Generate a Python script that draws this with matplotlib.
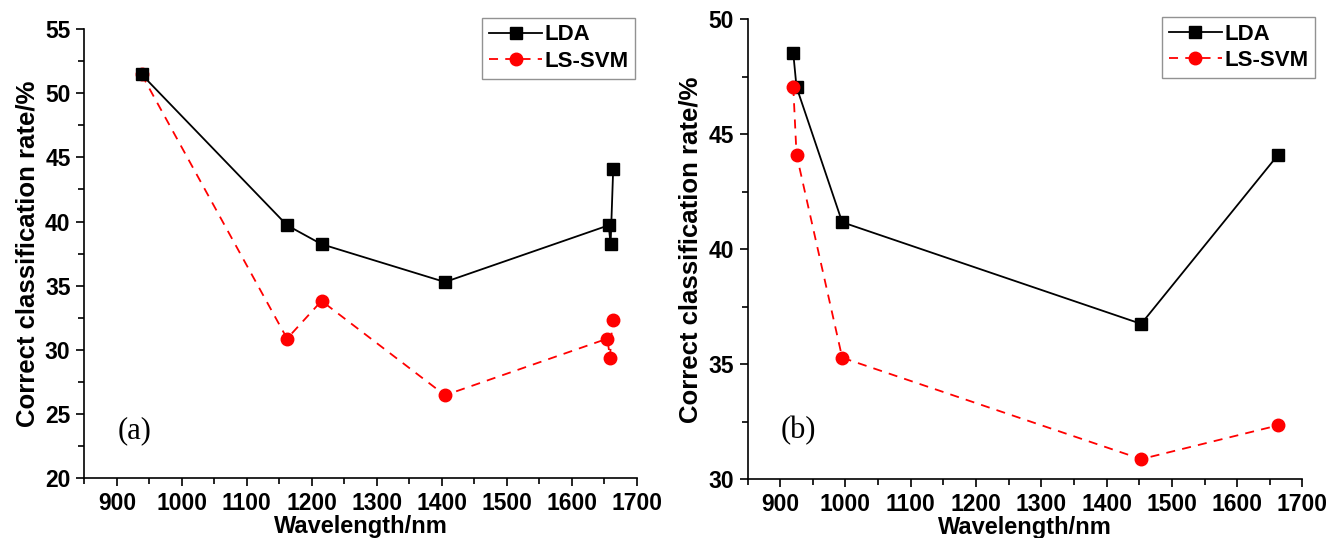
import matplotlib
matplotlib.use("Agg")
import matplotlib.pyplot as plt
from matplotlib.ticker import MultipleLocator

plt.rcParams['font.family'] = ['Liberation Sans', 'DejaVu Sans']

# panel (a)
wl_a = [938, 1162, 1215, 1405, 1657, 1660, 1664]
lda_a = [51.47, 39.71, 38.24, 35.29, 39.71, 38.24, 44.12]
wl_svm_a = [938, 1162, 1215, 1405, 1655, 1659, 1663]
svm_a = [51.47, 30.88, 33.82, 26.47, 30.88, 29.41, 32.35]

# panel (b)
wl_b = [920, 925, 995, 1453, 1663]
lda_b = [48.53, 47.06, 41.18, 36.76, 44.12]
wl_svm_b = [920, 925, 995, 1453, 1663]
svm_b = [47.06, 44.12, 35.29, 30.88, 32.35]

fig = plt.figure(figsize=(13.29, 5.38), dpi=100)
ax1 = fig.add_axes([0.0635, 0.111, 0.4155, 0.835])
ax2 = fig.add_axes([0.5625, 0.109, 0.4175, 0.855])


def style(ax, ylim, ymaj, label, anchor):
    ax.set_xlim(850, 1700)
    ax.set_ylim(*ylim)
    ax.xaxis.set_major_locator(MultipleLocator(100))
    ax.xaxis.set_minor_locator(MultipleLocator(50))
    ax.yaxis.set_major_locator(MultipleLocator(ymaj))
    ax.yaxis.set_minor_locator(MultipleLocator(ymaj / 2))
    for s in ['top', 'right']:
        ax.spines[s].set_visible(False)
    for s in ['left', 'bottom']:
        ax.spines[s].set_linewidth(1.2)
    ax.tick_params(which='major', direction='out', length=6, width=1.2,
                   labelsize=16.5, pad=4)
    ax.tick_params(which='minor', direction='out', length=4, width=1.2)
    for t in ax.get_xticklabels() + ax.get_yticklabels():
        t.set_fontweight('bold')
    ax.set_xlabel('Wavelength/nm', fontsize=17, fontweight='bold', labelpad=0)
    ax.set_ylabel('Correct classification rate/%', fontsize=18.5,
                  fontweight='bold', labelpad=4)
    ax.text(0.06, 0.09, label, transform=ax.transAxes, fontsize=22,
            family=['Liberation Serif', 'DejaVu Serif'])
    leg = ax.legend(loc='upper right', bbox_to_anchor=anchor,
                    prop={'weight': 'bold', 'size': 16}, fancybox=False,
                    handlelength=2.4, handletextpad=0.1, borderpad=0.3,
                    labelspacing=0.25, borderaxespad=0.3)
    leg.get_frame().set_edgecolor('#777777')
    leg.get_frame().set_linewidth(1.0)


ax1.plot(wl_a, lda_a, '-', color='black', lw=1.3, marker='s', ms=8,
         label='LDA', zorder=3)
ax1.plot(wl_svm_a, svm_a, '--', color='#ff0000', lw=1.3, marker='o', ms=9,
         dashes=(5, 4), label='LS-SVM', zorder=2)
style(ax1, (20, 55), 5, '(a)', (1.01, 1.04))

ax2.plot(wl_b, lda_b, '-', color='black', lw=1.3, marker='s', ms=8,
         label='LDA', zorder=2)
ax2.plot(wl_svm_b, svm_b, '--', color='#ff0000', lw=1.3, marker='o', ms=9,
         dashes=(5, 4), label='LS-SVM', zorder=3)
style(ax2, (30, 50), 5, '(b)', (1.035, 1.02))

fig.savefig('out.png', dpi=100)
